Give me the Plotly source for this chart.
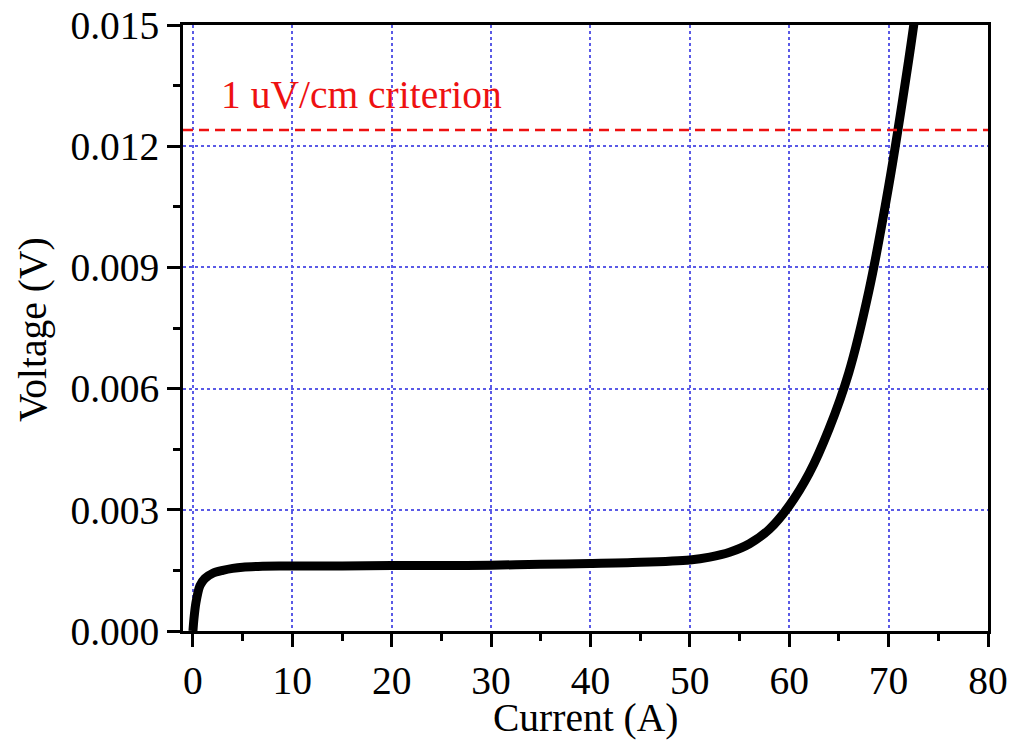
import plotly.graph_objects as go

# Data
current_a = [0, 0.1, 0.3, 0.7, 1.2, 2, 3, 4, 5, 7, 10, 15, 20, 25, 30, 35, 40, 45,
             50, 52, 54, 56, 58, 60, 62, 64, 66, 68, 70, 72, 72.7]
voltage_v = [0, 0.0003, 0.0007, 0.00112, 0.0013, 0.00143, 0.0015, 0.00155, 0.00158,
             0.0016, 0.00161, 0.00161, 0.00162, 0.00162, 0.00163, 0.00165, 0.00167,
             0.0017, 0.00176, 0.00183, 0.00195, 0.00216, 0.00252, 0.0031, 0.0039,
             0.0050, 0.0064, 0.0084, 0.0110, 0.0141, 0.0153]
criterion_v = 0.0124
criterion_label = "1 uV/cm criterion"
x_title = "Current (A)"
y_title = "Voltage (V)"
x_ticks = [0, 10, 20, 30, 40, 50, 60, 70, 80]
y_ticks = [0.0, 0.003, 0.006, 0.009, 0.012, 0.015]

FONT = "Liberation Serif, Times New Roman, serif"
GRID = "#5a5ae6"
FS = 39.5

fig = go.Figure()
fig.add_trace(go.Scatter(
    x=current_a, y=voltage_v, mode="lines",
    line=dict(color="black", width=9, shape="spline", smoothing=0.8),
    showlegend=False, cliponaxis=True,
))

fig.add_shape(type="line", xref="paper", yref="y", x0=0, x1=1,
              y0=criterion_v, y1=criterion_v,
              line=dict(color="#ee1111", width=2.5, dash="10px,6px"))

fig.add_annotation(x=2.6, y=0.01326, xref="x", yref="y", text=criterion_label,
                   showarrow=False, xanchor="left", yanchor="middle",
                   font=dict(family=FONT, size=FS, color="#ee1111"))

# axis titles
fig.add_annotation(x=0.5, y=-0.143, xref="paper", yref="paper", text=x_title,
                   showarrow=False, xanchor="center", yanchor="middle",
                   font=dict(family=FONT, size=FS, color="black"))
fig.add_annotation(x=-0.186, y=0.497, xref="paper", yref="paper", text=y_title,
                   showarrow=False, xanchor="center", yanchor="middle", textangle=-90,
                   font=dict(family=FONT, size=FS, color="black"))

axis_common = dict(
    showline=True, linecolor="black", linewidth=2.5, mirror=True,
    ticks="outside", ticklen=13, tickwidth=2.5, tickcolor="black",
    showgrid=True, gridcolor=GRID, gridwidth=1.5, griddash="dot",
    zeroline=False, automargin=False,
    tickfont=dict(family=FONT, size=FS, color="black"),
)

fig.update_xaxes(
    range=[-1, 80], tickvals=x_ticks,
    minor=dict(ticks="outside", ticklen=7, tickwidth=2.5, tickcolor="black",
               dtick=5, tick0=0, showgrid=False),
    **axis_common,
)
fig.update_yaxes(
    range=[0, 0.015], tickvals=y_ticks, tickformat=".3f",
    minor=dict(ticks="outside", ticklen=7, tickwidth=2.5, tickcolor="black",
               dtick=0.0015, tick0=0, showgrid=False),
    **axis_common,
)

fig.update_layout(
    width=1018, height=745,
    margin=dict(l=183, r=30, t=25, b=114),
    paper_bgcolor="white", plot_bgcolor="white",
    font=dict(family=FONT, color="black"),
)

fig.write_html("out.html", config={"displayModeBar": False},
               post_script="document.body.style.margin='0';document.body.style.padding='0';")
